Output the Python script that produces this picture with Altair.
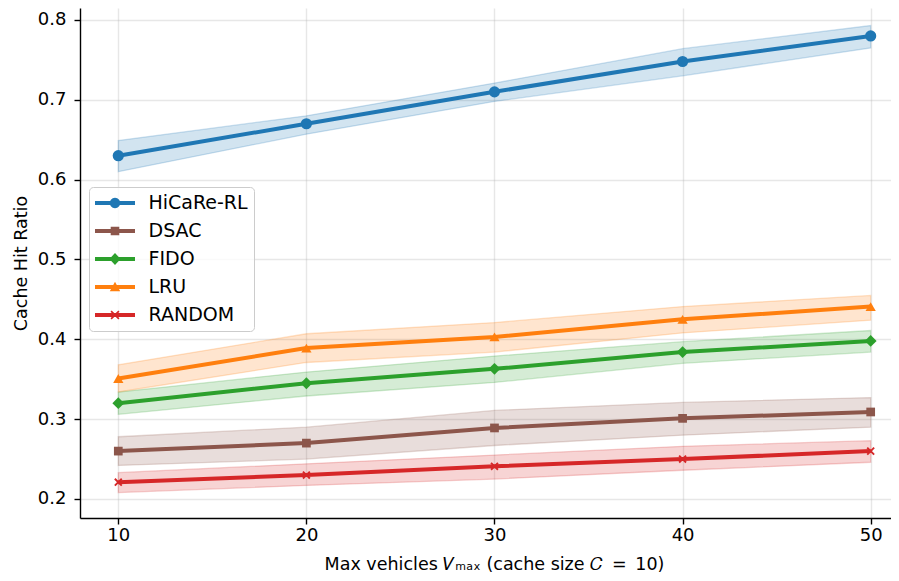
import math
import altair as alt
import pandas as pd

# ---------------- data ----------------
x_values = [10, 20, 30, 40, 50]
methods = ["HiCaRe-RL", "DSAC", "FIDO", "LRU", "RANDOM"]
colors = ["#1f77b4", "#8c564b", "#2ca02c", "#ff7f0e", "#d62728"]

hicare_mean = [0.630, 0.670, 0.710, 0.748, 0.780]
hicare_low = [0.610, 0.657, 0.698, 0.730, 0.765]
hicare_high = [0.649, 0.680, 0.721, 0.764, 0.793]

dsac_mean = [0.260, 0.270, 0.289, 0.301, 0.309]
dsac_low = [0.242, 0.250, 0.267, 0.280, 0.290]
dsac_high = [0.278, 0.290, 0.311, 0.321, 0.327]

fido_mean = [0.320, 0.345, 0.363, 0.384, 0.398]
fido_low = [0.306, 0.329, 0.346, 0.370, 0.384]
fido_high = [0.334, 0.359, 0.379, 0.397, 0.411]

lru_mean = [0.351, 0.389, 0.403, 0.425, 0.441]
lru_low = [0.334, 0.371, 0.384, 0.408, 0.424]
lru_high = [0.368, 0.407, 0.421, 0.441, 0.455]

random_mean = [0.221, 0.230, 0.241, 0.250, 0.260]
random_low = [0.208, 0.217, 0.225, 0.236, 0.246]
random_high = [0.233, 0.244, 0.255, 0.266, 0.273]

x_ticks = [10, 20, 30, 40, 50]
y_ticks = [0.2, 0.3, 0.4, 0.5, 0.6, 0.7, 0.8]

series = {
    "HiCaRe-RL": (hicare_mean, hicare_low, hicare_high),
    "DSAC": (dsac_mean, dsac_low, dsac_high),
    "FIDO": (fido_mean, fido_low, fido_high),
    "LRU": (lru_mean, lru_low, lru_high),
    "RANDOM": (random_mean, random_low, random_high),
}

rows = []
for m in methods:
    mean, low, high = series[m]
    for i, xv in enumerate(x_values):
        rows.append({"method": m, "x": xv, "mean": mean[i], "low": low[i], "high": high[i]})
df = pd.DataFrame(rows)

# ---------------- styling ----------------
FONT = "DejaVu Sans"
x_scale = alt.Scale(domain=[7.964, 51.08], nice=False, zero=False)
y_scale = alt.Scale(domain=[0.1762, 0.8150], nice=False, zero=False)

x_axis = alt.Axis(values=x_ticks, format="d",
                  title="Max vehicles 𝑉ₘₐₓ (cache size 𝐶\u2002=\u200210)",
                  labelPadding=2, titlePadding=11, tickSize=6, titleX=414)
y_axis = alt.Axis(values=y_ticks, format=".1f", title="Cache Hit Ratio",
                  labelPadding=8, titlePadding=7, tickSize=6)


def X():
    return alt.X("x:Q", scale=x_scale, axis=x_axis)


def Y(field):
    return alt.Y(f"{field}:Q", scale=y_scale, axis=y_axis)


base = alt.Chart(df)

X_PATH = "M-1,-1L1,1M-1,1L1,-1"
marker_specs = {
    "HiCaRe-RL": dict(shape="circle", size=125, filled=True),
    "DSAC": dict(shape="square", size=76, filled=True),
    "FIDO": dict(shape="diamond", size=140, filled=True),
    "LRU": dict(shape="triangle-up", size=105, filled=True),
    "RANDOM": dict(shape=X_PATH, size=48, filled=False, strokeWidth=1.9),
}

band_layers, line_layers, point_layers = [], [], []
for m, c in zip(methods, colors):
    sub = base.transform_filter(alt.datum.method == m)
    band_layers.append(
        sub.mark_area(color=c, fillOpacity=0.2, stroke=c, strokeOpacity=0.22, strokeWidth=1.3)
        .encode(x=X(), y=Y("low"), y2=alt.Y2("high:Q"))
    )
    line_layers.append(
        sub.mark_line(color=c, strokeWidth=4).encode(x=X(), y=Y("mean"))
    )
    point_layers.append(
        sub.mark_point(color=c, opacity=1, **marker_specs[m]).encode(x=X(), y=Y("mean"))
    )


# legend symbols: line segment + marker, polygons only (unit coords)
def poly(pts):
    return "M" + "L".join(f"{px:.3f},{py:.3f}" for px, py in pts) + "Z"


LINE = poly([(-1, -0.2), (3, -0.2), (3, 0.2), (-1, 0.2)])
circle = poly([(1 + 0.52 * math.cos(2 * math.pi * k / 28), 0.52 * math.sin(2 * math.pi * k / 28))
               for k in range(28)])
square = poly([(0.57, -0.43), (1.43, -0.43), (1.43, 0.43), (0.57, 0.43)])
diamond = poly([(1, -0.6), (1.56, 0), (1, 0.6), (0.44, 0)])
triangle = poly([(1, -0.52), (1.52, 0.42), (0.48, 0.42)])
cross = (poly([(0.67, -0.45), (1.45, 0.33), (1.33, 0.45), (0.55, -0.33)])
         + poly([(1.45, -0.33), (0.67, 0.45), (0.55, 0.33), (1.33, -0.45)]))
legend_paths = [LINE + circle, LINE + square, LINE + diamond, LINE + triangle, LINE + cross]

leg = alt.Legend(
    title=None, orient="none", legendX=9, legendY=179,
    symbolSize=400, symbolStrokeWidth=0, symbolOpacity=1,
    labelFontSize=19, labelFont=FONT, labelColor="black", labelOffset=33.5, labelLimit=300,
    rowPadding=8, padding=6,
    fillColor="rgba(255,255,255,0.8)", strokeColor="#cccccc", cornerRadius=4,
)

legend_layer = (
    base.transform_filter(alt.datum.x == 10)
    .mark_point(filled=True, opacity=0)
    .encode(
        x=X(), y=Y("mean"),
        fill=alt.Fill("method:N", scale=alt.Scale(domain=methods, range=colors), legend=leg),
        shape=alt.Shape("method:N", scale=alt.Scale(domain=methods, range=legend_paths), legend=leg),
    )
)

chart = (
    alt.layer(*band_layers, *line_layers, *point_layers, legend_layer)
    .properties(
        width=811, height=510,
        autosize=alt.AutoSizeParams(type="none"),
        padding={"left": 72, "top": 0, "right": 0, "bottom": 55},
    )
    .configure_view(stroke=None)
    .configure_axis(
        labelFont=FONT, titleFont=FONT, labelFontSize=18, titleFontSize=17.5,
        titleFontWeight="normal", labelColor="black", titleColor="black",
        domainColor="black", domainWidth=1.4, tickColor="black", tickWidth=1.4,
        gridColor="#b0b0b0", gridOpacity=0.3, gridWidth=1.4,
    )
)

chart.save("out.html", embed_options={"renderer": "svg", "actions": False})
